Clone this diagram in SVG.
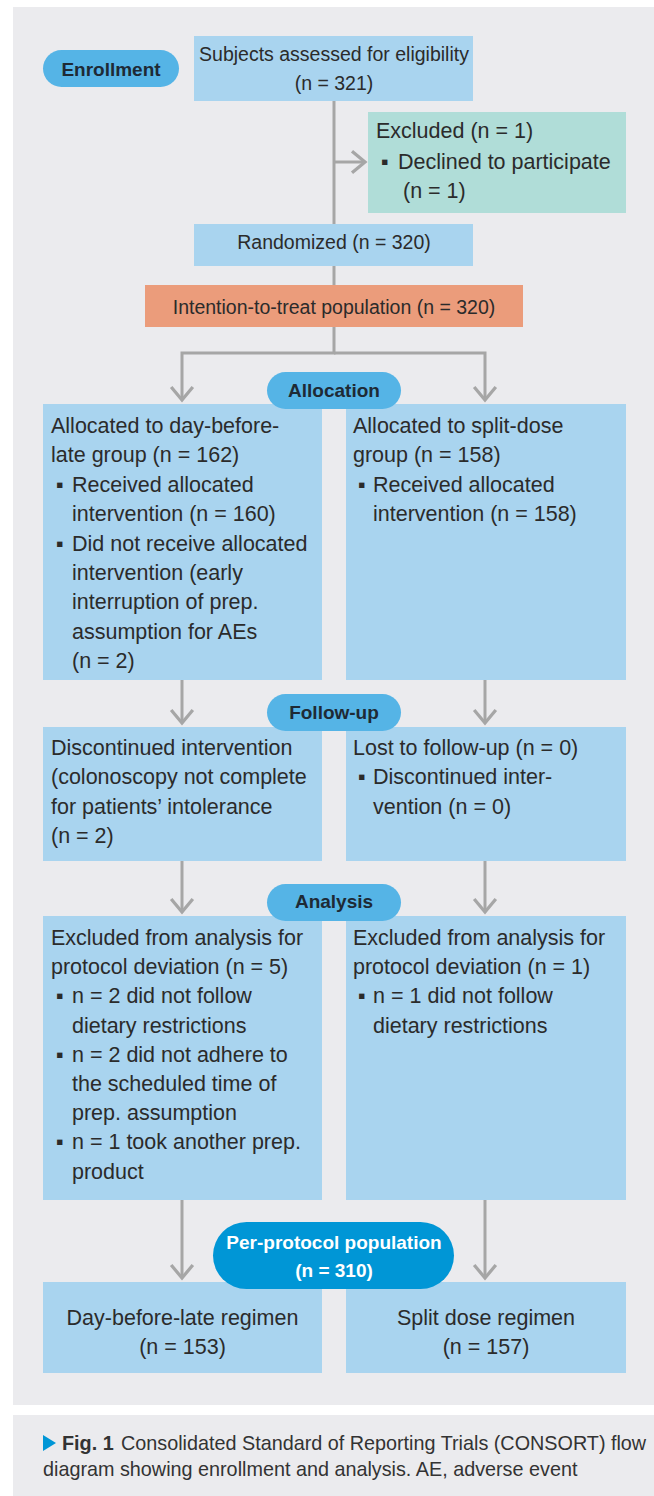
<svg xmlns="http://www.w3.org/2000/svg" width="654" height="1496" viewBox="0 0 654 1496">
<style>
.bg{fill:#ebebee}
.box{fill:#a9d4ef}
.exc{fill:#b0ddd8}
.itt{fill:#eb9c7b}
.pill{fill:#55b4e6}
.pp{fill:#0096d6}
.t{font-family:"Liberation Sans",Arial,sans-serif;fill:#2b2b2b}
.s{font-size:19.5px}
.b{font-size:21.5px}
.h{font-size:19px;font-weight:bold;fill:#1e2a35}
.w{font-size:19px;font-weight:bold;fill:#ffffff}
.c{font-size:19.8px;fill:#333333}
.m{text-anchor:middle}
.conn{fill:none;stroke:#a6a6a6;stroke-width:3}
</style>
<defs>
<marker id="arr" markerUnits="userSpaceOnUse" orient="auto" refX="0" refY="0" markerWidth="20" markerHeight="26" viewBox="-14 -12 16 24" overflow="visible">
<path d="M-12,-10 L0,0 L-12,10" fill="none" stroke="#a6a6a6" stroke-width="3" stroke-linejoin="miter"/>
</marker>
</defs>
<rect class="bg" x="13" y="7" width="641" height="1398"/>
<rect class="bg" x="13" y="1415" width="641" height="81"/>

<g id="connectors">
<path class="conn" d="M334,101 V225"/>
<path class="conn" d="M334,162 H365" marker-end="url(#arr)"/>
<path class="conn" d="M334,266 V286"/>
<path class="conn" d="M334,327 V353 H182 V400" marker-end="url(#arr)"/>
<path class="conn" d="M334,353 H485 V400" marker-end="url(#arr)"/>
<path class="conn" d="M182,680 V723" marker-end="url(#arr)"/>
<path class="conn" d="M485,680 V723" marker-end="url(#arr)"/>
<path class="conn" d="M182,861 V912" marker-end="url(#arr)"/>
<path class="conn" d="M485,861 V912" marker-end="url(#arr)"/>
<path class="conn" d="M182,1200 V1278" marker-end="url(#arr)"/>
<path class="conn" d="M485,1200 V1278" marker-end="url(#arr)"/>
</g>

<g id="enrollment">
<rect class="pill" x="43" y="50" width="136" height="37" rx="18.5"/>
<text class="t h m" x="111" y="76">Enrollment</text>
</g>

<g id="assessed">
<rect class="box" x="194" y="36" width="279" height="65"/>
<text class="t s m" x="334" y="61">Subjects assessed for eligibility</text>
<text class="t s m" x="334" y="90">(n = 321)</text>
</g>

<g id="excluded">
<rect class="exc" x="368" y="112" width="258" height="101"/>
<text class="t b" x="376" y="138">Excluded (n = 1)</text>
<text class="t b"><tspan x="381" y="169">▪</tspan><tspan x="398" y="169">Declined to participate</tspan></text>
<text class="t b" x="403" y="198">(n = 1)</text>
</g>

<g id="randomized">
<rect class="box" x="194" y="224" width="279" height="42"/>
<text class="t s m" x="334" y="249">Randomized (n = 320)</text>
</g>

<g id="itt">
<rect class="itt" x="145" y="285" width="378" height="42"/>
<text class="t s m" x="334" y="314">Intention-to-treat population (n = 320)</text>
</g>

<g id="alloc-left">
<rect class="box" x="43" y="404" width="279" height="276"/>
<text class="t b" x="51" y="433">Allocated to day-before-</text>
<text class="t b" x="51" y="462.4">late group (n = 162)</text>
<text class="t b"><tspan x="56" y="491.8">▪</tspan><tspan x="72" y="491.8">Received allocated</tspan></text>
<text class="t b" x="72" y="521.2">intervention (n = 160)</text>
<text class="t b"><tspan x="56" y="550.6">▪</tspan><tspan x="72" y="550.6">Did not receive allocated</tspan></text>
<text class="t b" x="72" y="580">intervention (early</text>
<text class="t b" x="72" y="609.4">interruption of prep.</text>
<text class="t b" x="72" y="638.8">assumption for AEs</text>
<text class="t b" x="72" y="668.2">(n = 2)</text>
</g>

<g id="alloc-right">
<rect class="box" x="346" y="404" width="280" height="276"/>
<text class="t b" x="353" y="433">Allocated to split-dose</text>
<text class="t b" x="353" y="462.4">group (n = 158)</text>
<text class="t b"><tspan x="358" y="491.8">▪</tspan><tspan x="373" y="491.8">Received allocated</tspan></text>
<text class="t b" x="373" y="521.2">intervention (n = 158)</text>
</g>

<g id="allocation">
<rect class="pill" x="267" y="372" width="134" height="37" rx="18.5"/>
<text class="t h m" x="334" y="397">Allocation</text>
</g>

<g id="follow-left">
<rect class="box" x="43" y="727" width="279" height="134"/>
<text class="t b" x="51" y="755">Discontinued intervention</text>
<text class="t b" x="51" y="784.3">(colonoscopy not complete</text>
<text class="t b" x="51" y="813.6">for patients’ intolerance</text>
<text class="t b" x="51" y="842.9">(n = 2)</text>
</g>

<g id="follow-right">
<rect class="box" x="346" y="727" width="280" height="134"/>
<text class="t b" x="353" y="755">Lost to follow-up (n = 0)</text>
<text class="t b"><tspan x="358" y="784.3">▪</tspan><tspan x="373" y="784.3">Discontinued inter-</tspan></text>
<text class="t b" x="373" y="813.6">vention (n = 0)</text>
</g>

<g id="followup">
<rect class="pill" x="267" y="694" width="134" height="37" rx="18.5"/>
<text class="t h m" x="334" y="719">Follow-up</text>
</g>

<g id="analysis-left">
<rect class="box" x="43" y="916" width="279" height="284"/>
<text class="t b" x="51" y="945">Excluded from analysis for</text>
<text class="t b" x="51" y="974.2">protocol deviation (n = 5)</text>
<text class="t b"><tspan x="56" y="1003.4">▪</tspan><tspan x="72" y="1003.4">n = 2 did not follow</tspan></text>
<text class="t b" x="72" y="1032.6">dietary restrictions</text>
<text class="t b"><tspan x="56" y="1061.8">▪</tspan><tspan x="72" y="1061.8">n = 2 did not adhere to</tspan></text>
<text class="t b" x="72" y="1091">the scheduled time of</text>
<text class="t b" x="72" y="1120.2">prep. assumption</text>
<text class="t b"><tspan x="56" y="1149.4">▪</tspan><tspan x="72" y="1149.4">n = 1 took another prep.</tspan></text>
<text class="t b" x="72" y="1178.6">product</text>
</g>

<g id="analysis-right">
<rect class="box" x="346" y="916" width="280" height="284"/>
<text class="t b" x="353" y="945">Excluded from analysis for</text>
<text class="t b" x="353" y="974.2">protocol deviation (n = 1)</text>
<text class="t b"><tspan x="358" y="1003.4">▪</tspan><tspan x="373" y="1003.4">n = 1 did not follow</tspan></text>
<text class="t b" x="373" y="1032.6">dietary restrictions</text>
</g>

<g id="analysis">
<rect class="pill" x="267" y="884" width="134" height="37" rx="18.5"/>
<text class="t h m" x="334" y="908">Analysis</text>
</g>

<g id="final-left">
<rect class="box" x="43" y="1282" width="279" height="91"/>
<text class="t b m" x="182.5" y="1325">Day-before-late regimen</text>
<text class="t b m" x="182.5" y="1354">(n = 153)</text>
</g>

<g id="final-right">
<rect class="box" x="346" y="1282" width="280" height="91"/>
<text class="t b m" x="486" y="1325">Split dose regimen</text>
<text class="t b m" x="486" y="1354">(n = 157)</text>
</g>

<g id="per-protocol">
<rect class="pp" x="213" y="1222" width="241" height="67" rx="33.5"/>
<text class="t w m" x="334" y="1249">Per-protocol population</text>
<text class="t w m" x="334" y="1277">(n = 310)</text>
</g>

<g id="caption">
<polygon points="43,1435 56,1443 43,1451" fill="#0096d6"/>
<text class="t c" x="62" y="1450" font-weight="bold">Fig. 1</text>
<text class="t c" x="121" y="1450">Consolidated Standard of Reporting Trials (CONSORT) flow</text>
<text class="t c" x="43" y="1476">diagram showing enrollment and analysis. AE, adverse event</text>
</g>
</svg>
